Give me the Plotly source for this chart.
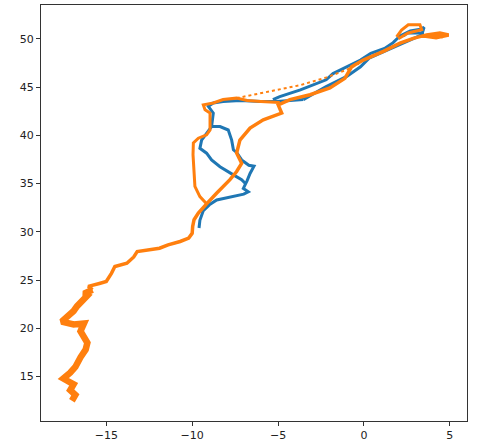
import plotly.graph_objects as go

# ---- data ----
# orange: southern noisy stretch
orange_south_x = [-17.0, -16.8, -17.1, -16.9, -17.3, -17.5, -17.1, -16.8, -16.5, -16.2, -16.1, -16.3, -16.5, -16.3, -16.9, -17.6, -17.2, -16.9, -16.7, -16.4, -16.1, -16.3, -15.8]
orange_south_y = [12.5, 13.1, 13.6, 14.2, 14.6, 14.8, 15.4, 16.0, 17.0, 17.8, 18.5, 19.2, 19.7, 20.5, 20.4, 20.7, 21.3, 21.8, 22.3, 22.9, 23.4, 23.6, 24.0]

orange_main_x = [-15.8, -16.05, -15.4, -15.0, -14.7, -14.5, -13.8, -13.4, -13.2, -12.6, -11.9, -11.4, -10.7, -10.2, -10.0, -9.97, -9.89, -9.64, -9.35, -9.16,
                 -8.58, -7.8, -7.41, -7.12, -7.41, -7.22, -6.63, -5.86, -4.79, -4.99, -4.31, -3.14, -1.98, -1.11, -0.72, -0.04, 1.13, 2.1, 2.87, 3.65, 4.42, 4.93, 4.2, 3.4, 4.6]
orange_main_y = [24.0, 24.35, 24.65, 24.85, 25.7, 26.4, 26.75, 27.4, 27.95, 28.1, 28.3, 28.65, 29.0, 29.35, 29.85, 30.55, 31.25, 31.95, 32.45, 32.9,
                 34.0, 35.4, 36.25, 37.1, 38.15, 39.5, 40.75, 41.6, 42.3, 43.15, 43.7, 44.2, 44.9, 45.9, 47.1, 47.8, 48.7, 49.55, 50.05, 50.4, 50.6, 50.4, 50.1, 50.3, 50.2]

orange_west_x = [-9.16, -9.55, -9.84, -9.93, -9.95, -9.93, -9.64, -9.16, -8.96, -8.96, -8.96, -9.25, -9.35, -8.77, -8.2, -7.41, -6.8, -6.0, -4.9]
orange_west_y = [32.9, 33.65, 34.7, 36.8, 38.0, 39.2, 39.7, 40.05, 40.55, 41.6, 42.3, 42.65, 43.15, 43.35, 43.7, 43.85, 43.6, 43.5, 43.4]

orange_fast_x = [-7.41, -5.7, -3.7, -2.17, -1.0, -0.3]
orange_fast_y = [43.85, 44.5, 45.2, 46.0, 46.8, 47.4]

orange_loop_x = [1.9, 2.19, 2.58, 3.26, 3.36, 2.58, 2.0]
orange_loop_y = [50.2, 50.9, 51.45, 51.45, 50.95, 50.6, 50.0]

blue_main_x = [-9.6, -9.55, -9.35, -9.0, -8.57, -7.6, -7.0, -6.73, -7.02, -6.8, -6.63, -6.4, -6.7, -7.12, -7.4, -7.6, -7.7, -7.9, -8.38, -8.87, -8.8, -8.77, -9.06,
               -8.77, -8.2, -7.2, -6.0, -5.08, -4.3, -3.53]
blue_main_y = [30.4, 31.2, 32.2, 32.8, 33.3, 33.65, 33.9, 34.15, 34.5, 35.3, 36.05, 36.8, 36.9, 37.45, 38.2, 38.5, 39.5, 40.55, 40.9, 40.9, 41.6, 42.3, 43.0,
               43.35, 43.5, 43.6, 43.5, 43.5, 43.6, 43.7]

blue_inner_x = [-8.87, -9.45, -9.55, -9.16, -8.87, -8.38, -7.6, -7.12, -6.9]
blue_inner_y = [40.9, 39.5, 38.65, 38.15, 37.45, 36.75, 35.9, 35.4, 35.0]

blue_north_x = [-5.3, -4.9, -3.7, -2.2, -1.8, -1.0, -0.2, 0.4, 1.2, 1.7, 2.1, 2.7, 3.3, 3.5, 3.4, 2.5, 2.3]
blue_north_y = [43.7, 44.0, 44.7, 45.75, 46.4, 47.1, 47.8, 48.5, 49.0, 49.6, 50.3, 50.8, 51.0, 51.2, 50.6, 50.6, 50.3]

blue_south_x = [-3.53, -2.2, -1.0, -0.2, 0.3, 1.2, 2.1, 2.9, 3.5]
blue_south_y = [43.7, 45.05, 46.1, 47.1, 48.0, 48.7, 49.4, 50.0, 50.5]

x_ticks = [-15, -10, -5, 0, 5]
x_tick_labels = ["\u221215", "\u221210", "\u22125", "0", "5"]
y_ticks = [15, 20, 25, 30, 35, 40, 45, 50]

BLUE = "#1f77b4"
ORANGE = "#ff7f0e"

fig = go.Figure()

def add(x, y, color, width, dash="solid"):
    fig.add_trace(go.Scatter(x=x, y=y, mode="lines", line=dict(color=color, width=width, dash=dash),
                             showlegend=False, hoverinfo="skip"))

add(blue_main_x, blue_main_y, BLUE, 3)
add(blue_inner_x, blue_inner_y, BLUE, 3)
add(blue_north_x, blue_north_y, BLUE, 3)
add(blue_south_x, blue_south_y, BLUE, 3)

add(orange_south_x, orange_south_y, ORANGE, 6.5)
add(orange_main_x, orange_main_y, ORANGE, 3.5)
add(orange_west_x, orange_west_y, ORANGE, 3)
add(orange_fast_x, orange_fast_y, ORANGE, 2, "dot")
add(orange_loop_x, orange_loop_y, ORANGE, 3)

axis_common = dict(showgrid=False, zeroline=False, showline=True, linecolor="#333333", linewidth=1,
                   mirror=True, ticks="outside", ticklen=4, tickcolor="#333333", automargin=False,
                   tickfont=dict(family="DejaVu Sans", size=11, color="#222222"))

fig.update_layout(
    width=488, height=446,
    margin=dict(l=41, r=21, t=5, b=25),
    paper_bgcolor="white", plot_bgcolor="white",
    xaxis=dict(range=[-18.8, 6.0], tickvals=x_ticks, ticktext=x_tick_labels, **axis_common),
    yaxis=dict(range=[10.4, 53.5], tickvals=y_ticks, **axis_common),
)

fig.write_html("out.html", config={"displayModeBar": False},
               post_script="document.body.style.margin='0px';")
